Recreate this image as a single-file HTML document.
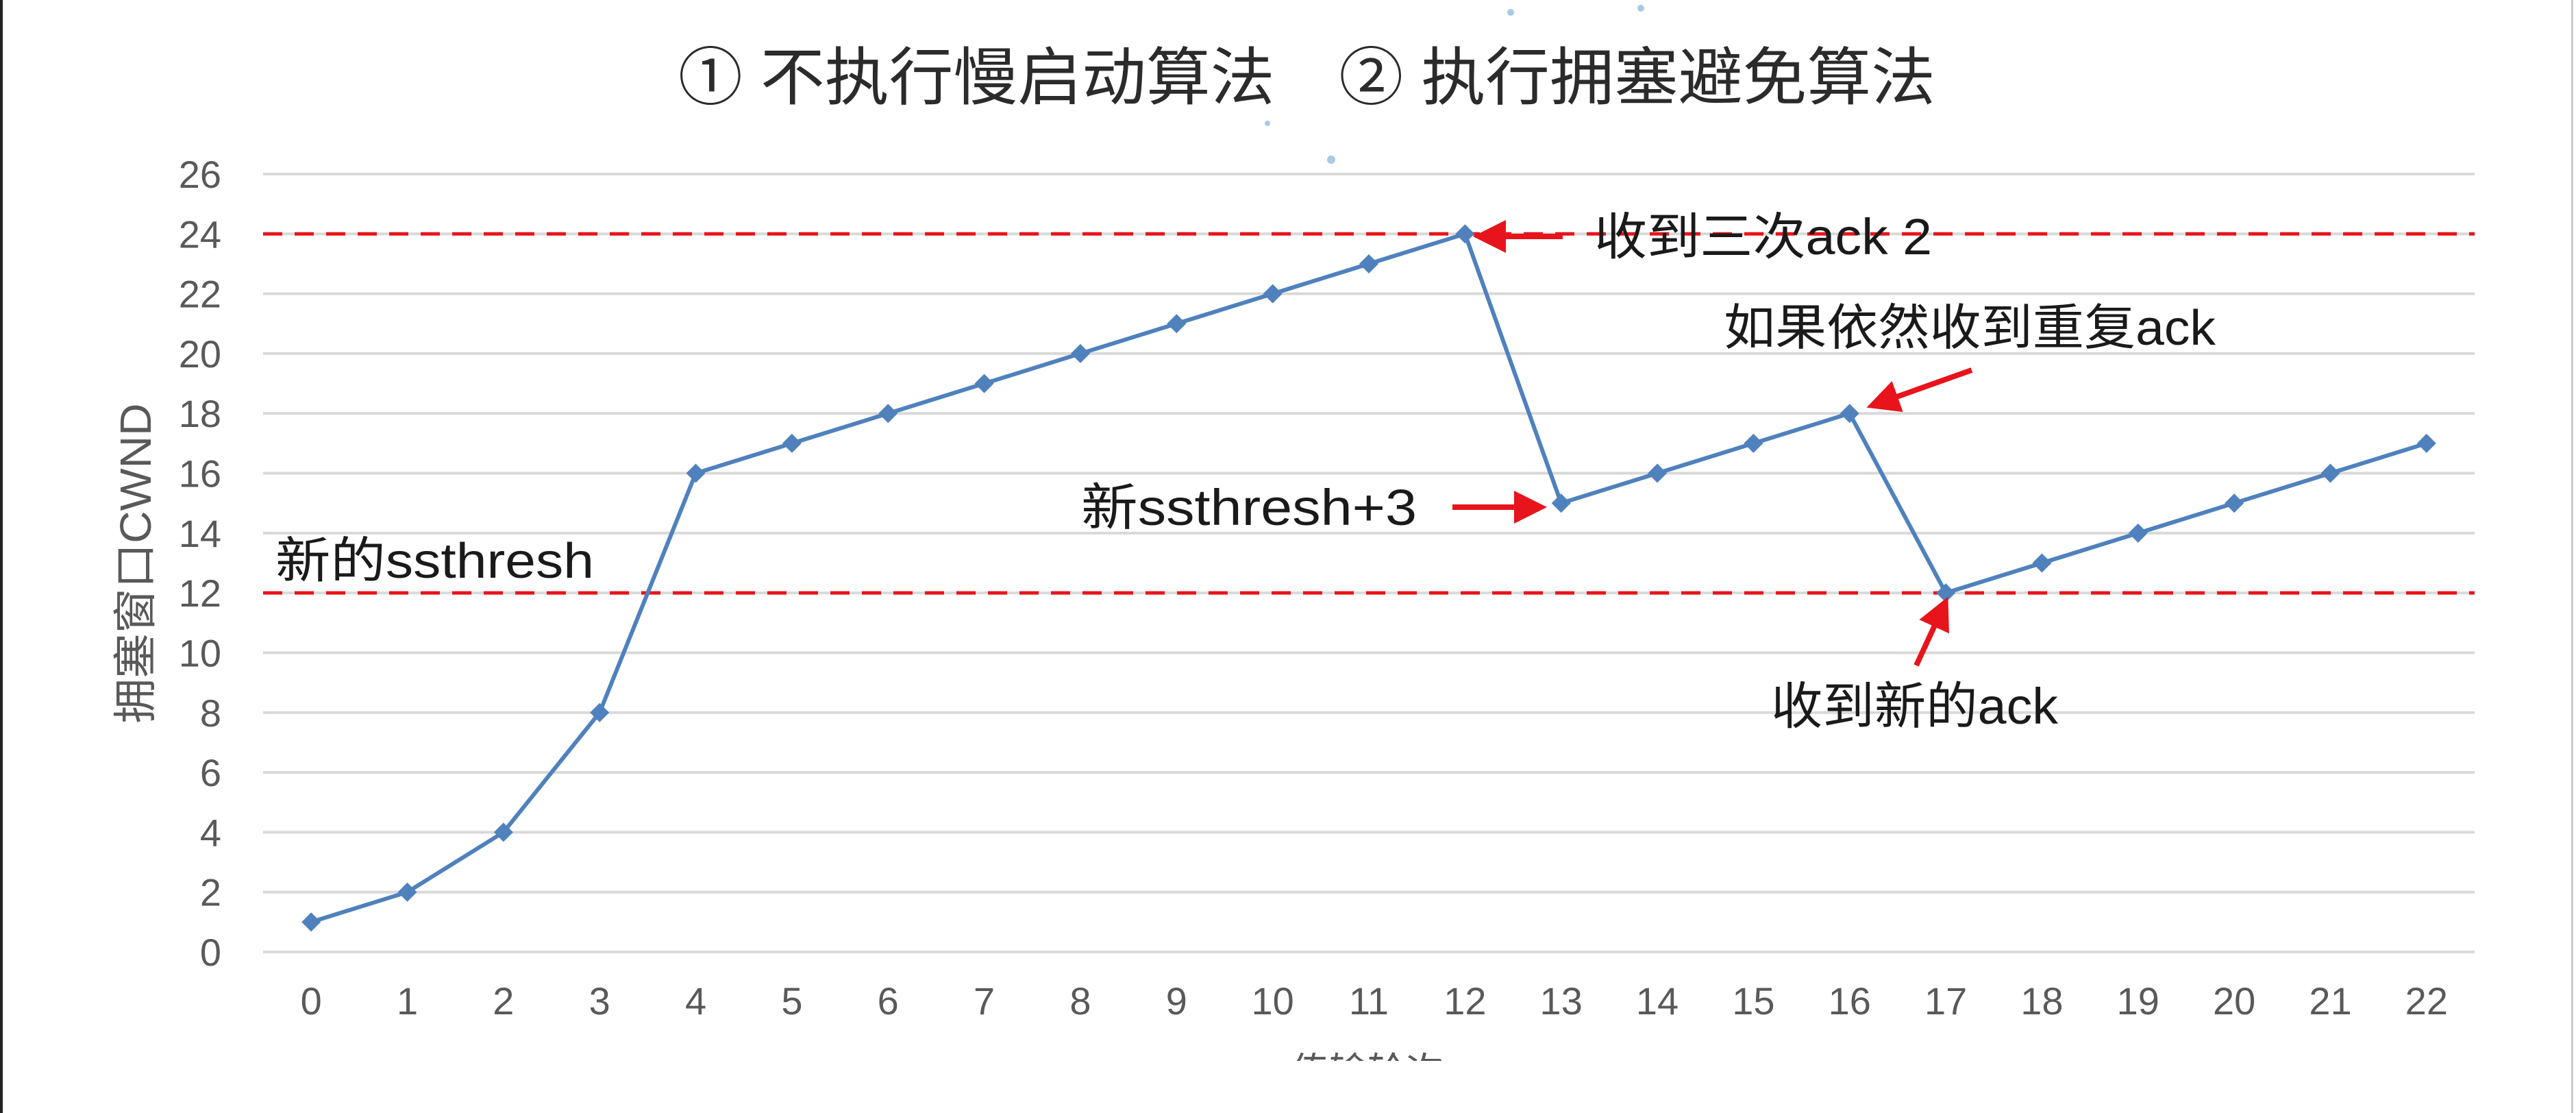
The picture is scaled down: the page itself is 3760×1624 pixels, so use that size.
<!DOCTYPE html>
<html><head><meta charset="utf-8">
<style>
html,body{margin:0;padding:0;background:#fff;}
body{width:3760px;height:1624px;overflow:hidden;position:relative;}
svg{position:absolute;left:0;top:0;}
text{font-family:"Liberation Sans","Noto Sans CJK SC",sans-serif;}
</style></head>
<body>
<svg id="chart" width="3760" height="1624" viewBox="0 0 3760 1624">
  <defs>
    <marker id="arrowhead" markerWidth="6" markerHeight="6" refX="5" refY="3" orient="auto" markerUnits="strokeWidth">
      <path d="M0,0 L6,3 L0,6 z" fill="#e8141b"/>
    </marker>
  </defs>
  <rect x="0" y="0" width="4" height="1624" fill="#222"/>
  <rect x="3753" y="0" width="3" height="1624" fill="#ccc"/>
  <g fill="#a9c9e6">
    <circle cx="1943" cy="233" r="6"/><circle cx="2205" cy="18" r="5"/><circle cx="2395" cy="12" r="5"/><circle cx="1850" cy="180" r="4"/>
  </g>
  <text x="990" y="145" font-size="92" fill="#2b2b2b" textLength="1835" lengthAdjust="spacingAndGlyphs">① 不执行慢启动算法　② 执行拥塞避免算法</text>
  <g id="grid"></g>
  <g id="yticks"></g>
  <g id="xticks"></g>
  <text x="0" y="0" font-size="64" fill="#595959" text-anchor="middle" textLength="467" lengthAdjust="spacingAndGlyphs" transform="translate(220,822) rotate(-90)">拥塞窗口CWND</text>
  <text x="1996" y="1583" font-size="56" fill="#595959" text-anchor="middle">传输轮次</text>
  <rect x="4" y="1548" width="3749" height="76" fill="#fff"/>
  <g id="refs"></g>
  <g id="series"></g>
  <g fill="#1a1a1a">
    <text x="402" y="843" font-size="72" textLength="465" lengthAdjust="spacingAndGlyphs">新的ssthresh</text>
    <text x="2327" y="371" font-size="74" textLength="493" lengthAdjust="spacingAndGlyphs">收到三次ack 2</text>
    <text x="2516" y="503" font-size="72" textLength="718" lengthAdjust="spacingAndGlyphs">如果依然收到重复ack</text>
    <text x="1578" y="766" font-size="74" textLength="490" lengthAdjust="spacingAndGlyphs">新ssthresh+3</text>
    <text x="2585" y="1056" font-size="74" textLength="419" lengthAdjust="spacingAndGlyphs">收到新的ack</text>
  </g>
  <g stroke="#e8141b" stroke-width="8" fill="none">
    <line x1="2281" y1="345" x2="2158" y2="345" marker-end="url(#arrowhead)"/>
    <line x1="2878" y1="540" x2="2732" y2="592" marker-end="url(#arrowhead)"/>
    <line x1="2120" y1="740" x2="2250" y2="740" marker-end="url(#arrowhead)"/>
    <line x1="2797" y1="971" x2="2840" y2="878" marker-end="url(#arrowhead)"/>
  </g>
</svg>
<script>
const rounds = [0,1,2,3,4,5,6,7,8,9,10,11,12,13,14,15,16,17,18,19,20,21,22];
const cwnd = [1,2,4,8,16,17,18,19,20,21,22,23,24,15,16,17,18,12,13,14,15,16,17];
const yTicks = [0,2,4,6,8,10,12,14,16,18,20,22,24,26];
const thresholds = [24,12];

const NS = 'http://www.w3.org/2000/svg';
const plotL = 384, plotR = 3612, plotTop = 254, plotBot = 1389, yMax = 26;
const band = (plotR - plotL) / rounds.length;
function xScale(i){ return plotL + band * (i + 0.5); }
function yScale(v){ return plotBot - (v / yMax) * (plotBot - plotTop); }
function mk(tag, attrs, parent){ const e = document.createElementNS(NS, tag); for (const k in attrs) e.setAttribute(k, attrs[k]); parent.appendChild(e); return e; }

const grid = document.getElementById('grid');
const yt = document.getElementById('yticks');
yTicks.forEach(v => {
  const l = mk('line', {x1: plotL, x2: plotR, y1: yScale(v), y2: yScale(v), stroke: '#d9d9d9', 'stroke-width': 4}, grid);
  
  
  const t = mk('text', {x: 323, y: yScale(v) + 20, 'font-size': 56, fill: '#595959', 'text-anchor': 'end'}, yt);
  t.textContent = v;
  
  
});
const xt = document.getElementById('xticks');
rounds.forEach((r, i) => {
  const t = mk('text', {x: xScale(i), y: 1480, 'font-size': 56, fill: '#595959', 'text-anchor': 'middle'}, xt);
  t.textContent = r;
  
  
});
const refs = document.getElementById('refs');
thresholds.forEach(v => {
  const l = mk('line', {x1: plotL, x2: plotR, y1: yScale(v), y2: yScale(v), stroke: '#e8141b', 'stroke-width': 5, 'stroke-dasharray': '28 18'}, refs);
  
  
});
const s = document.getElementById('series');
const pts = cwnd.map((v, i) => xScale(i) + ',' + yScale(v)).join(' ');
const pl = mk('polyline', {points: pts, fill: 'none', stroke: '#4f81bd', 'stroke-width': 6, 'stroke-linejoin': 'round'}, s);


cwnd.forEach((v, i) => {
  const x = xScale(i), y = yScale(v), d = 14;
  const p = mk('polygon', {points: `${x},${y-d} ${x+d},${y} ${x},${y+d} ${x-d},${y}`, fill: '#4f81bd'}, s);
  
  
});
</script>
</body></html>
